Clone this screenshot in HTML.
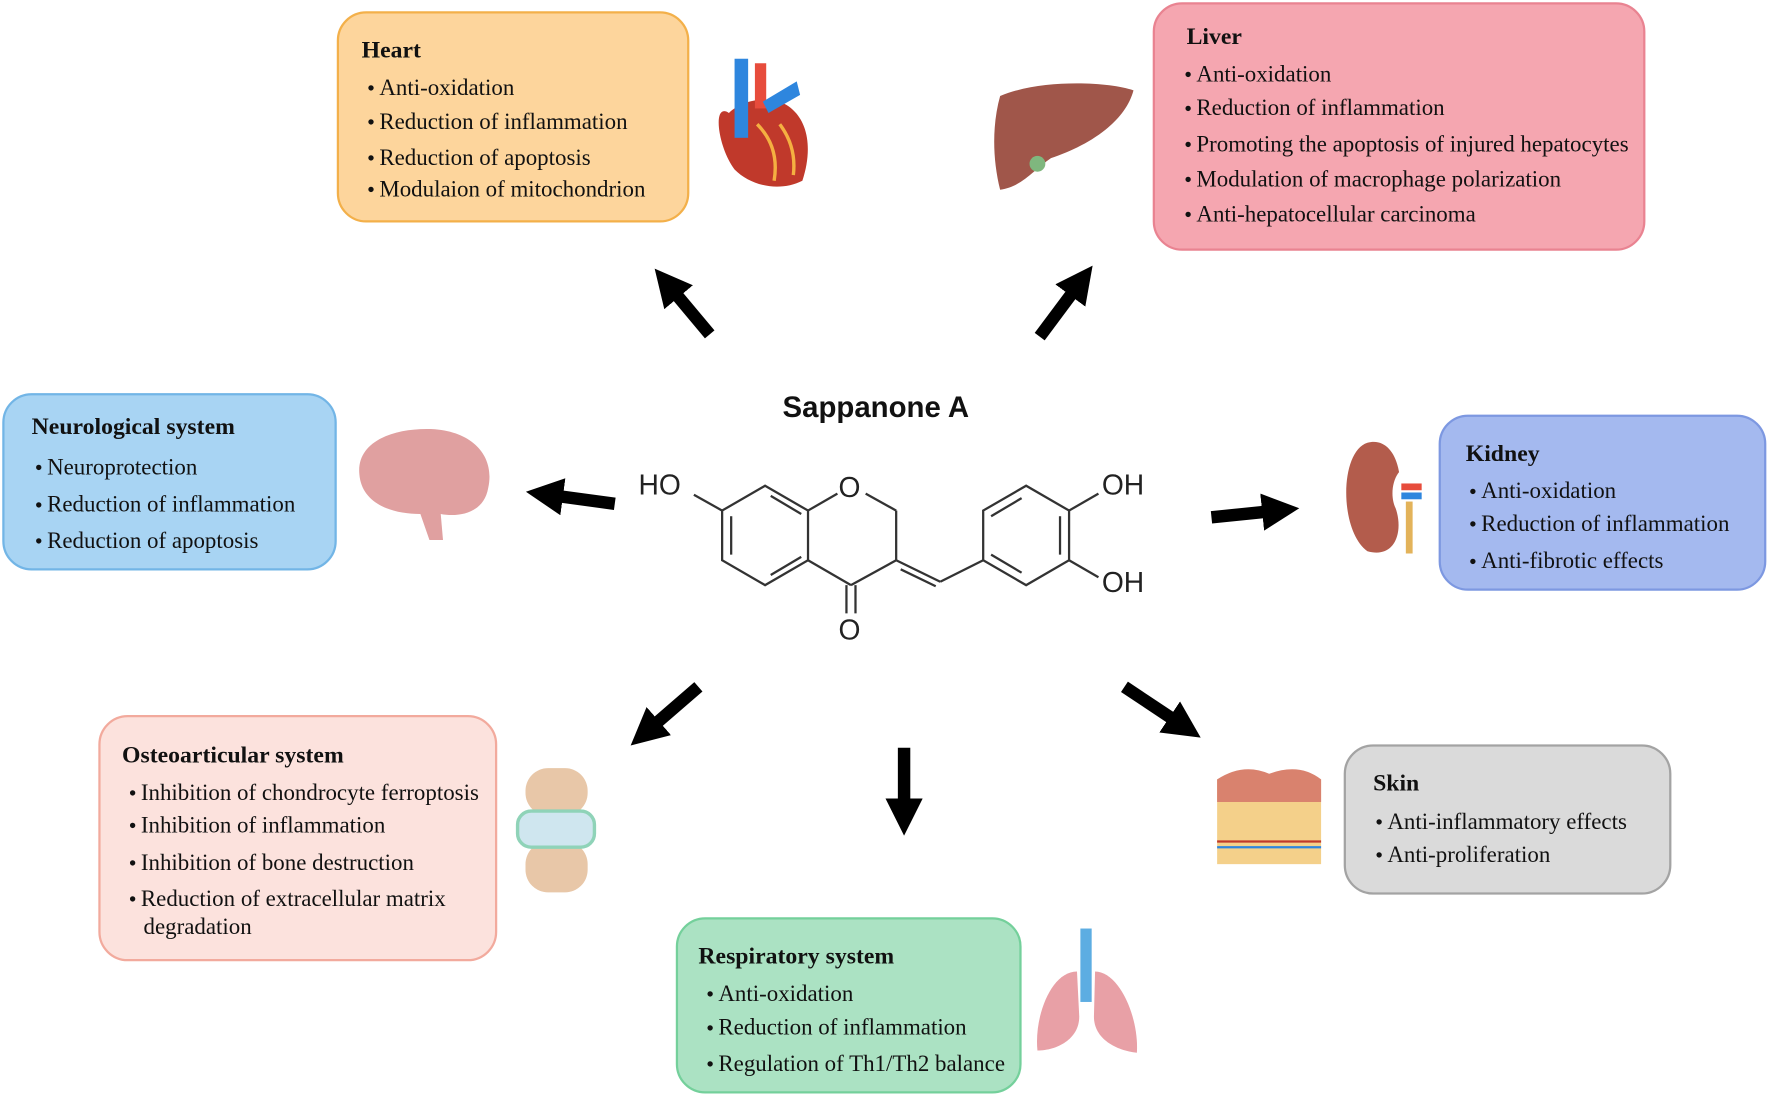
<!DOCTYPE html>
<html><head><meta charset="utf-8"><style>
html,body{margin:0;padding:0;background:#fff;overflow:hidden}
#w{position:absolute;left:0;top:0;width:1568px;height:972px;transform:scale(1.1301,1.1296);transform-origin:0 0;font-family:"Liberation Serif",serif;color:#111}
.b{position:absolute;border:2px solid;border-radius:26px;box-sizing:border-box}
.t{position:absolute;font-weight:bold;font-size:21px;white-space:nowrap;margin-top:3px}
.i{position:absolute;font-size:20.3px;white-space:nowrap;margin-top:3px}
.i:before{content:"\25CF";font-size:11px;vertical-align:3px;margin-right:4px}
.n:before{content:none}
svg{position:absolute;left:0;top:0}
</style></head><body><div id="w">
<div class="b" style="left:298px;top:10px;width:312px;height:187px;background:#fdd59c;border-color:#f3b04a"></div>
<div class="b" style="left:1020px;top:2px;width:436px;height:220px;background:#f5a6b0;border-color:#e98391"></div>
<div class="b" style="left:2px;top:348px;width:296px;height:157px;background:#a8d4f3;border-color:#72b5e6"></div>
<div class="b" style="left:1273px;top:367px;width:290px;height:156px;background:#a4b9ef;border-color:#7d98e1"></div>
<div class="b" style="left:87px;top:633px;width:353px;height:218px;background:#fce2dd;border-color:#f2aa9d"></div>
<div class="b" style="left:1189px;top:659px;width:290px;height:133px;background:#dadada;border-color:#a3a3a3"></div>
<div class="b" style="left:598px;top:812px;width:306px;height:156px;background:#abe2c3;border-color:#74d09b"></div>

<div class="t" style="left:320px;top:29px">Heart</div>
<div class="i" style="left:325px;top:64px">Anti-oxidation</div>
<div class="i" style="left:325px;top:94px">Reduction of inflammation</div>
<div class="i" style="left:325px;top:126px">Reduction of apoptosis</div>
<div class="i" style="left:325px;top:154px">Modulaion of mitochondrion</div>

<div class="t" style="left:1050px;top:17px">Liver</div>
<div class="i" style="left:1048px;top:52px">Anti-oxidation</div>
<div class="i" style="left:1048px;top:82px">Reduction of inflammation</div>
<div class="i" style="left:1048px;top:114px">Promoting the apoptosis of injured hepatocytes</div>
<div class="i" style="left:1048px;top:145px">Modulation of macrophage polarization</div>
<div class="i" style="left:1048px;top:176px">Anti-hepatocellular carcinoma</div>

<div class="t" style="left:28px;top:362px">Neurological system</div>
<div class="i" style="left:31px;top:400px">Neuroprotection</div>
<div class="i" style="left:31px;top:433px">Reduction of inflammation</div>
<div class="i" style="left:31px;top:465px">Reduction of apoptosis</div>

<div class="t" style="left:1297px;top:386px">Kidney</div>
<div class="i" style="left:1300px;top:421px">Anti-oxidation</div>
<div class="i" style="left:1300px;top:450px">Reduction of inflammation</div>
<div class="i" style="left:1300px;top:483px">Anti-fibrotic effects</div>

<div class="t" style="left:108px;top:653px">Osteoarticular system</div>
<div class="i" style="left:114px;top:688px">Inhibition of chondrocyte ferroptosis</div>
<div class="i" style="left:114px;top:717px">Inhibition of inflammation</div>
<div class="i" style="left:114px;top:750px">Inhibition of bone destruction</div>
<div class="i" style="left:114px;top:782px">Reduction of extracellular matrix</div>
<div class="i n" style="left:127px;top:807px">degradation</div>

<div class="t" style="left:1215px;top:678px">Skin</div>
<div class="i" style="left:1217px;top:714px">Anti-inflammatory effects</div>
<div class="i" style="left:1217px;top:743px">Anti-proliferation</div>

<div class="t" style="left:618px;top:831px">Respiratory system</div>
<div class="i" style="left:625px;top:866px">Anti-oxidation</div>
<div class="i" style="left:625px;top:896px">Reduction of inflammation</div>
<div class="i" style="left:625px;top:928px">Regulation of Th1/Th2 balance</div>

<svg width="1568" height="972" viewBox="0 0 1568 972">
<defs><marker id="ah" markerWidth="3" markerHeight="3" refX="1.2" refY="1.5" orient="auto" markerUnits="strokeWidth"><path d="M0,0 L3,1.5 L0,3 Z" fill="#000"/></marker></defs>
<g stroke="#000" stroke-width="11" marker-end="url(#ah)">
<line x1="628" y1="296" x2="592" y2="253"/>
<line x1="920" y1="298" x2="955" y2="251"/>
<line x1="544" y1="446" x2="485" y2="438"/>
<line x1="1072" y1="458" x2="1130" y2="452"/>
<line x1="618" y1="608" x2="573" y2="647"/>
<line x1="800" y1="662" x2="800" y2="720"/>
<line x1="995" y1="608" x2="1046" y2="642"/>
</g>
<text x="775" y="369" font-family="Liberation Sans,sans-serif" font-weight="bold" font-size="26" text-anchor="middle" fill="#111">Sappanone A</text>
<g stroke="#333" stroke-width="2" fill="none">
<polygon points="677,430 715,452 715,496 677,518 639,496 639,452"/>
<line x1="647" y1="457" x2="647" y2="491"/><line x1="682" y1="509" x2="709" y2="493"/><line x1="682" y1="439" x2="709" y2="455"/>
<line x1="639" y1="452" x2="614" y2="438"/>
<line x1="715" y1="452" x2="741" y2="437"/><line x1="766" y1="437" x2="793" y2="452"/>
<line x1="793" y1="452" x2="793" y2="496"/><line x1="793" y1="496" x2="753" y2="518"/><line x1="753" y1="518" x2="715" y2="496"/>
<line x1="749" y1="518" x2="749" y2="543"/><line x1="757" y1="518" x2="757" y2="543"/>
<line x1="793" y1="496" x2="832" y2="515"/><line x1="797" y1="504" x2="828" y2="519"/>
<line x1="832" y1="515" x2="870" y2="496"/>
<polygon points="870,452 908,430 946,452 946,496 908,518 870,496"/>
<line x1="877" y1="457" x2="904" y2="441"/><line x1="938" y1="457" x2="938" y2="491"/><line x1="877" y1="491" x2="904" y2="507"/>
<line x1="946" y1="452" x2="972" y2="437"/><line x1="946" y1="496" x2="972" y2="511"/>
</g>
<g font-family="Liberation Sans,sans-serif" font-size="25" fill="#222">
<text x="565" y="438">HO</text><text x="742" y="440">O</text><text x="742" y="566">O</text>
<text x="975" y="438">OH</text><text x="975" y="524">OH</text>
</g>
<g><path d="M645,100 C630,90 635,130 650,150 C665,165 690,170 710,160 C720,130 715,100 690,90 C675,85 655,90 645,100Z" fill="#c0392b"/>
<rect x="650" y="52" width="12" height="70" fill="#2e86de"/><rect x="668" y="56" width="10" height="40" fill="#e74c3c"/><path d="M675,90 L705,72 L708,84 L680,100Z" fill="#2e86de"/>
<path d="M670,110 Q690,130 685,160 M690,110 Q705,130 702,155" stroke="#f5b041" stroke-width="3" fill="none"/></g>
<path d="M885,85 C920,70 980,72 1003,80 C995,110 960,130 930,140 C915,150 905,165 885,168 C878,140 878,110 885,85Z" fill="#a0564a"/>
<circle cx="918" cy="145" r="7" fill="#7fb77e"/>
<path d="M318,420 C315,390 350,378 385,380 C420,383 438,405 432,432 C428,455 405,458 390,455 L392,478 L380,478 L372,455 C345,455 320,445 318,420Z" fill="#e0a0a0"/>
<path d="M1210,392 C1185,400 1185,470 1210,488 C1235,495 1242,470 1235,450 C1230,440 1232,425 1238,418 C1235,400 1225,388 1210,392Z" fill="#b35c4c"/>
<rect x="1240" y="428" width="18" height="6" fill="#e74c3c"/><rect x="1240" y="436" width="18" height="6" fill="#2e86de"/><rect x="1244" y="444" width="6" height="46" fill="#e3b35a"/>
<rect x="465" y="680" width="55" height="42" rx="20" fill="#e8c7a8"/><rect x="465" y="745" width="55" height="45" rx="20" fill="#e8c7a8"/>
<rect x="458" y="718" width="68" height="32" rx="12" fill="#cfe6ef" stroke="#8fd3b8" stroke-width="3"/>
<rect x="1077" y="690" width="92" height="75" fill="#f4d08a"/><path d="M1077,690 Q1100,675 1123,685 Q1150,675 1169,690 L1169,710 L1077,710Z" fill="#d9826e"/>
<line x1="1077" y1="745" x2="1169" y2="745" stroke="#c0392b" stroke-width="2"/><line x1="1077" y1="750" x2="1169" y2="750" stroke="#2e86de" stroke-width="2"/>
<rect x="956" y="822" width="10" height="65" fill="#5dade2"/>
<path d="M953,860 C930,860 915,900 918,930 C935,930 955,920 955,900Z" fill="#e8a0a6"/>
<path d="M969,860 C990,860 1008,900 1006,932 C988,930 968,920 968,900Z" fill="#e8a0a6"/>
</svg>
</div></body></html>
